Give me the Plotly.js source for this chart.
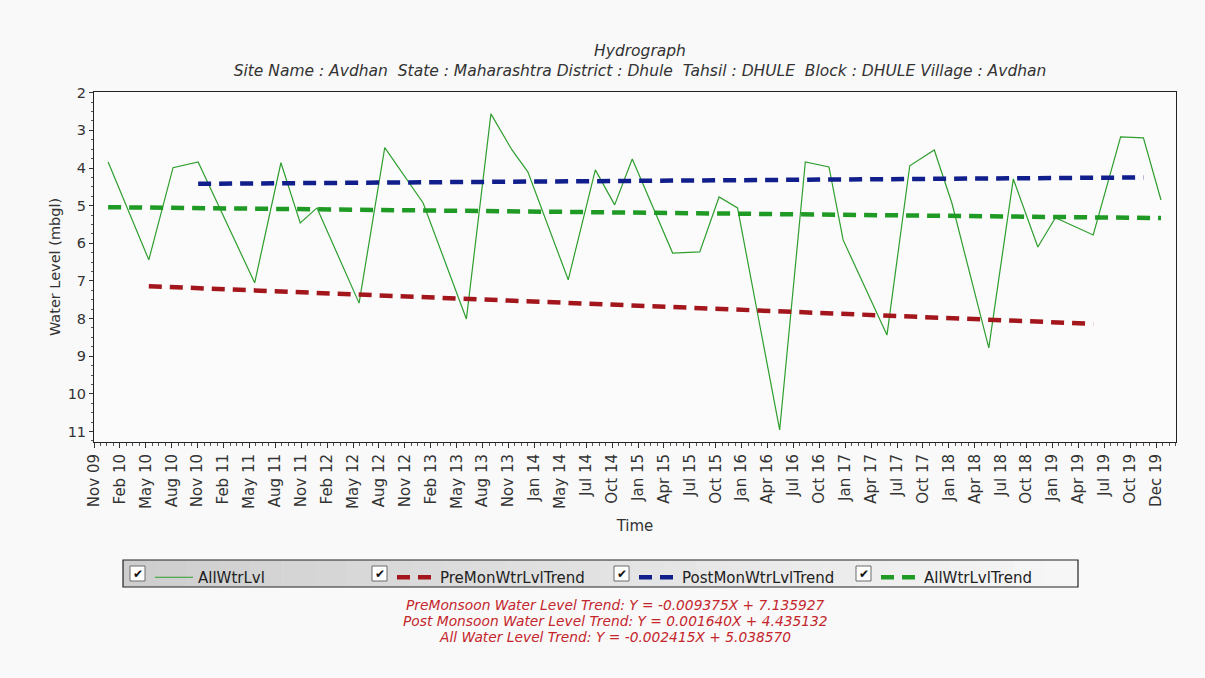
<!DOCTYPE html>
<html>
<head>
<meta charset="utf-8">
<script src="https://cdn.plot.ly/plotly-3.0.1.min.js"></script>
<style>
  html, body { margin: 0; padding: 0; background: #f9f9f9; }
  #chart { width: 1205px; height: 678px; }
</style>
</head>
<body>
<div id="chart"></div>
<script>
// ---------------- DATA ----------------
const obsDates = ['2010-01-03','2010-05-24','2010-08-16','2010-11-11','2011-05-26','2011-08-25','2011-10-31','2011-12-28',
  '2012-05-22','2012-08-19','2012-12-30','2013-05-29','2013-08-22','2013-11-03','2013-12-28','2014-05-17','2014-08-19',
  '2014-10-25','2014-12-25','2015-05-14','2015-08-16','2015-10-22','2015-12-25','2016-05-19','2016-08-16','2016-11-06',
  '2016-12-25','2017-05-26','2017-08-13','2017-11-06','2018-01-06','2018-05-14','2018-08-07','2018-10-31','2018-12-31',
  '2019-05-11','2019-08-14','2019-11-01','2020-01-01'];
const obsLevels = [3.84,6.44,3.99,3.84,7.05,3.86,5.46,5.06,
  7.59,3.46,4.93,8.01,2.56,3.52,4.10,6.97,4.05,
  4.98,3.76,6.26,6.23,4.77,5.06,10.96,3.84,3.97,
  5.91,8.44,3.94,3.52,4.93,8.78,4.29,6.10,5.32,
  5.78,3.17,3.20,4.85];

const preTrendDates = ['2010-05-24','2019-05-11'];
const preTrendLevels = [7.14, 8.14];
const postTrendDates = ['2010-11-11','2019-11-01'];
const postTrendLevels = [4.42, 4.25];
const allTrendDates = ['2010-01-03','2020-01-01'];
const allTrendLevels = [5.04, 5.33];

const tickLabels = ['Nov 09','Feb 10','May 10','Aug 10','Nov 10','Feb 11','May 11','Aug 11','Nov 11','Feb 12','May 12',
  'Aug 12','Nov 12','Feb 13','May 13','Aug 13','Nov 13','Jan 14','May 14','Jul 14','Oct 14','Jan 15','Apr 15','Jul 15',
  'Oct 15','Jan 16','Apr 16','Jul 16','Oct 16','Jan 17','Apr 17','Jul 17','Oct 17','Jan 18','Apr 18','Jul 18','Oct 18',
  'Jan 19','Apr 19','Jul 19','Oct 19','Dec 19'];
const yTickValues = [2,3,4,5,6,7,8,9,10,11];

const seriesNames = ['AllWtrLvl','PreMonWtrLvlTrend','PostMonWtrLvlTrend','AllWtrLvlTrend'];
const titleLine1 = 'Hydrograph';
const titleLine2 = 'Site Name : Avdhan\u00a0 State : Maharashtra District : Dhule\u00a0 Tahsil : DHULE\u00a0 Block : DHULE Village : Avdhan';
const equations = [
  'PreMonsoon Water Level Trend: Y = -0.009375X + 7.135927',
  'Post Monsoon Water Level Trend: Y = 0.001640X + 4.435132',
  'All Water Level Trend: Y = -0.002415X + 5.038570'
];

// ---------------- LAYOUT HELPERS ----------------
const W = 1205, H = 678;
const M = {l: 94, r: 29, t: 92, b: 236};
const plotW = W - M.l - M.r, plotH = H - M.t - M.b;
const px2x = px => (px - M.l) / plotW;
const py2y = py => (H - M.b - py) / plotH;

const axisStart = Date.UTC(2009, 10, 15);
const lastTick = Date.UTC(2019, 11, 15);
const axisEnd = Date.UTC(2020, 1, 22);
const tickStep = (lastTick - axisStart) / (tickLabels.length - 1);
const tickVals = tickLabels.map((_, i) => axisStart + i * tickStep);
const minorVals = [];
for (let k = 1; axisStart + k * tickStep / 4 <= axisEnd; k++) {
  if (k % 4 !== 0) minorVals.push(axisStart + k * tickStep / 4);
}

const cGreen = '#2e9e2e', cRed = '#a3161c', cBlue = '#111f8c', cGreenT = '#1f9a24';
const fontFam = 'DejaVu Sans, Liberation Sans, Arial, sans-serif';

const traces = [
  {x: obsDates, y: obsLevels, name: seriesNames[0], type: 'scatter', mode: 'lines',
   line: {color: cGreen, width: 1.2}},
  {x: preTrendDates, y: preTrendLevels, name: seriesNames[1], type: 'scatter', mode: 'lines',
   line: {color: cRed, width: 4.5, dash: '13px,8px'}},
  {x: postTrendDates, y: postTrendLevels, name: seriesNames[2], type: 'scatter', mode: 'lines',
   line: {color: cBlue, width: 4.5, dash: '13px,8px'}},
  {x: allTrendDates, y: allTrendLevels, name: seriesNames[3], type: 'scatter', mode: 'lines',
   line: {color: cGreenT, width: 4.5, dash: '13px,8px'}}
];

// legend box (gradient strips), checkboxes
const shapes = [];
const boxL = 123, boxR = 1078, boxT = 560, boxB = 587;
const nStrips = 30;
for (let i = 0; i < nStrips; i++) {
  const f = i / (nStrips - 1);
  const c = Math.round(206 + f * (246 - 206));
  shapes.push({type: 'rect', xref: 'paper', yref: 'paper', layer: 'above',
    x0: px2x(boxL + (boxR - boxL) * i / nStrips), x1: px2x(boxL + (boxR - boxL) * (i + 1) / nStrips + 0.5),
    y0: py2y(boxT), y1: py2y(boxB), fillcolor: `rgb(${c},${c},${c})`, line: {width: 0}});
}
shapes.push({type: 'rect', xref: 'paper', yref: 'paper', layer: 'above',
  x0: px2x(boxL), x1: px2x(boxR), y0: py2y(boxT), y1: py2y(boxB),
  fillcolor: 'rgba(0,0,0,0)', line: {color: '#222', width: 1.2}});

const legendFirstSample = 153, legendStep = 242;
const annotations = [];
seriesNames.forEach((_, i) => {
  const cbL = legendFirstSample + i * legendStep - 23;
  shapes.push({type: 'rect', xref: 'paper', yref: 'paper', layer: 'above',
    x0: px2x(cbL), x1: px2x(cbL + 15), y0: py2y(566), y1: py2y(581),
    fillcolor: '#ffffff', line: {color: '#6a6a6a', width: 1}});
  annotations.push({xref: 'paper', yref: 'paper', x: px2x(cbL + 7.5), y: py2y(573.5),
    text: '\u2714', showarrow: false, xanchor: 'center', yanchor: 'middle',
    font: {family: fontFam, size: 12, color: '#111'}});
});

equations.forEach((t, i) => {
  annotations.push({xref: 'paper', yref: 'paper', x: px2x(615), y: py2y(605 + i * 16),
    text: t, showarrow: false, xanchor: 'center', yanchor: 'middle',
    font: {family: fontFam, size: 13.8, color: '#c4262c', style: 'italic'}});
});

const layout = {
  width: W, height: H,
  margin: {l: M.l, r: M.r, t: M.t, b: M.b, pad: 0},
  paper_bgcolor: '#f9f9f9', plot_bgcolor: '#fbfbfb',
  font: {family: fontFam, size: 13, color: '#333'},
  title: {text: titleLine1 + '<br>' + titleLine2, x: 640 / W, xanchor: 'center', xref: 'container',
    y: 1 - 56 / H, yanchor: 'middle', yref: 'container',
    font: {family: fontFam, size: 15.5, color: '#333', style: 'italic'}},
  xaxis: {type: 'date', range: [axisStart, axisEnd], tickmode: 'array', tickvals: tickVals, ticktext: tickLabels,
    tickangle: -90, ticks: 'outside', ticklen: 5, tickcolor: '#333', tickwidth: 1,
    showline: true, linecolor: '#222', linewidth: 1, mirror: true, showgrid: false, zeroline: false,
    tickfont: {family: fontFam, size: 15, color: '#333'},
    minor: {tickmode: 'array', tickvals: minorVals, ticks: 'outside', ticklen: 3, tickcolor: '#555', showgrid: false},
    title: {text: 'Time', font: {family: fontFam, size: 15, color: '#333'}, standoff: 12}},
  yaxis: {range: [11.28, 1.98], tickmode: 'array', tickvals: yTickValues, ticks: 'outside', ticklen: 4,
    tickcolor: '#333', showline: true, linecolor: '#222', linewidth: 1, mirror: true, showgrid: false,
    zeroline: false, tickfont: {family: fontFam, size: 14.5, color: '#333'},
    minor: {dtick: 0.25, ticks: 'outside', ticklen: 2, tickcolor: '#555', showgrid: false},
    title: {text: 'Water Level (mbgl)', font: {family: fontFam, size: 14.5, color: '#333'}, standoff: 3}},
  showlegend: true,
  legend: {orientation: 'h', x: px2x(150), y: py2y(561), xanchor: 'left', yanchor: 'top',
    bgcolor: 'rgba(0,0,0,0)', borderwidth: 0, font: {family: fontFam, size: 15, color: '#222'},
    entrywidth: 189, entrywidthmode: 'pixels', itemwidth: 38, traceorder: 'normal'},
  shapes: shapes,
  annotations: annotations
};

Plotly.newPlot('chart', traces, layout, {staticPlot: true, displayModeBar: false});
</script>
</body>
</html>
